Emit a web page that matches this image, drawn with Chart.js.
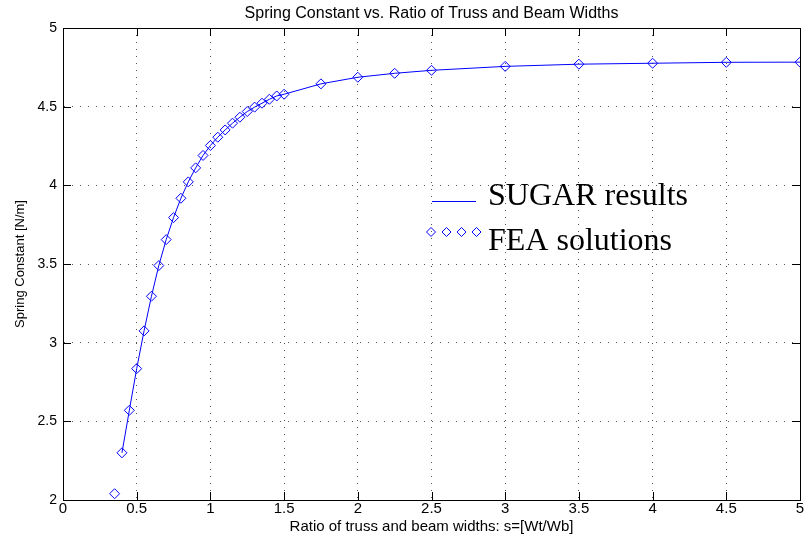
<!DOCTYPE html>
<html>
<head>
<meta charset="utf-8">
<script src="https://cdn.jsdelivr.net/npm/chart.js@4.4.1/dist/chart.umd.min.js"></script>
<style>
html,body{margin:0;padding:0;background:#fff;}
#wrap{width:812px;height:540px;position:relative;}
</style>
</head>
<body>
<div id="wrap"><canvas id="c" width="812" height="540"></canvas></div>
<script>
const chartTitle = "Spring Constant vs. Ratio of Truss and Beam Widths";
const xTitle = "Ratio of truss and beam widths: s=[Wt/Wb]";
const yTitle = "Spring Constant [N/m]";
const seriesNames = ["SUGAR results", "FEA solutions"];

// SUGAR results (line)
const sugarX = [0.4,0.45,0.5,0.55,0.6,0.65,0.7,0.75,0.8,0.85,0.9,0.95,1.0,1.05,1.1,1.15,1.2,1.25,1.3,1.35,1.4,1.45,1.5,1.75,2.0,2.25,2.5,3.0,3.5,4.0,4.5,5.0];
const sugarY = [2.30,2.57,2.835,3.075,3.295,3.49,3.655,3.795,3.918,4.022,4.111,4.19,4.253,4.306,4.352,4.395,4.433,4.469,4.497,4.522,4.547,4.568,4.579,4.645,4.687,4.712,4.731,4.756,4.770,4.776,4.782,4.783];

// FEA solutions (markers)
const feaX = [0.35,0.4,0.45,0.5,0.55,0.6,0.65,0.7,0.75,0.8,0.85,0.9,0.95,1.0,1.05,1.1,1.15,1.2,1.25,1.3,1.35,1.4,1.45,1.5,1.75,2.0,2.25,2.5,3.0,3.5,4.0,4.5,5.0];
const feaY = [2.04,2.30,2.57,2.835,3.075,3.295,3.49,3.655,3.795,3.918,4.022,4.111,4.19,4.253,4.306,4.352,4.395,4.433,4.469,4.497,4.522,4.547,4.568,4.579,4.645,4.687,4.712,4.731,4.756,4.770,4.776,4.782,4.783];

const xTicks = [0,0.5,1,1.5,2,2.5,3,3.5,4,4.5,5];
const yTicks = [2,2.5,3,3.5,4,4.5,5];

const BLUE = "#0000ff";
const sans = "'Liberation Sans', Arial, sans-serif";
const serif = "'Liberation Serif', 'Times New Roman', serif";

const fmt = v => String(Math.round(v * 100) / 100);

const framePlugin = {
  id: "frame",
  afterDraw(chart) {
    const ctx = chart.ctx, a = chart.chartArea;
    const xs = chart.scales.x, ys = chart.scales.y;
    ctx.save();
    ctx.strokeStyle = "#000";
    ctx.lineWidth = 1;
    ctx.setLineDash([]);
    ctx.strokeRect(Math.round(a.left) + 0.5, Math.round(a.top) + 0.5, Math.round(a.right - a.left), Math.round(a.bottom - a.top));
    const L = 8;
    ctx.beginPath();
    xTicks.forEach(v => {
      const px = Math.round(xs.getPixelForValue(v)) + 0.5;
      ctx.moveTo(px, a.bottom); ctx.lineTo(px, a.bottom - L);
      ctx.moveTo(px, a.top); ctx.lineTo(px, a.top + L);
    });
    yTicks.forEach(v => {
      const py = Math.round(ys.getPixelForValue(v)) + 0.5;
      ctx.moveTo(a.left, py); ctx.lineTo(a.left + L, py);
      ctx.moveTo(a.right, py); ctx.lineTo(a.right - L, py);
    });
    ctx.stroke();
    ctx.restore();

    // title
    ctx.save();
    ctx.fillStyle = "#000";
    ctx.font = "16px " + sans;
    ctx.textAlign = "center";
    ctx.textBaseline = "middle";
    ctx.fillText(chartTitle, (a.left + a.right) / 2, 14);

    // legend text
    ctx.font = "32px " + serif;
    ctx.textAlign = "left";
    ctx.textBaseline = "alphabetic";
    ctx.fillText(chart.data.datasets[0].label, 488, 205);
    ctx.fillText(chart.data.datasets[1].label, 488, 250);
    ctx.restore();

    // legend samples
    ctx.save();
    ctx.setLineDash([]);
    ctx.strokeStyle = BLUE;
    ctx.lineWidth = 1;
    ctx.beginPath();
    ctx.moveTo(432, 201.5); ctx.lineTo(476, 201.5);
    ctx.stroke();
    [431, 446.5, 461.5, 476.5].forEach(x => {
      ctx.beginPath();
      ctx.moveTo(x, 232 - 4.5); ctx.lineTo(x + 4.5, 232); ctx.lineTo(x, 232 + 4.5); ctx.lineTo(x - 4.5, 232); ctx.closePath();
      ctx.stroke();
    });
    ctx.restore();
  }
};

new Chart(document.getElementById("c"), {
  type: "scatter",
  data: {
    datasets: [
      {
        label: seriesNames[0],
        data: sugarX.map((x, i) => ({x: x, y: sugarY[i]})),
        showLine: true,
        borderColor: BLUE,
        borderWidth: 1,
        pointRadius: 0,
        pointHoverRadius: 0,
        fill: false,
        tension: 0
      },
      {
        label: seriesNames[1],
        data: feaX.map((x, i) => ({x: x, y: feaY[i]})),
        showLine: false,
        pointStyle: "rectRot",
        pointRadius: 5,
        pointBorderColor: BLUE,
        pointBackgroundColor: "rgba(0,0,0,0)",
        pointBorderWidth: 1,
        borderColor: BLUE,
        backgroundColor: "rgba(0,0,0,0)"
      }
    ]
  },
  options: {
    responsive: false,
    animation: false,
    devicePixelRatio: 1,
    layout: {padding: {top: 28, right: 12, left: 0, bottom: 0}},
    plugins: {legend: {display: false}, title: {display: false}, tooltip: {enabled: false}},
    scales: {
      x: {
        type: "linear", min: 0, max: 5,
        afterFit(s) { s.height = 40; },
        afterBuildTicks(s) { s.ticks = xTicks.map(v => ({value: v})); },
        ticks: {color: "#000", font: {family: sans, size: 15}, padding: 0, maxRotation: 0, autoSkip: false, callback: fmt},
        grid: {color: "#555", lineWidth: 1, drawTicks: false},
        border: {display: true, color: "#000", dash: [1, 6]},
        title: {display: true, text: xTitle, color: "#000", font: {family: sans, size: 15}, padding: {top: 0, bottom: 4}}
      },
      y: {
        type: "linear", min: 2, max: 5,
        afterFit(s) { s.width = 63; },
        afterBuildTicks(s) { s.ticks = yTicks.map(v => ({value: v})); },
        ticks: {color: "#000", font: {family: sans, size: 14}, padding: 6, autoSkip: false, callback: fmt},
        grid: {color: "#555", lineWidth: 1, drawTicks: false},
        border: {display: true, color: "#000", dash: [1, 7]},
        title: {display: true, text: yTitle, color: "#000", font: {family: sans, size: 13}, padding: {top: 13, bottom: 0}}
      }
    }
  },
  plugins: [framePlugin]
});
</script>
</body>
</html>
